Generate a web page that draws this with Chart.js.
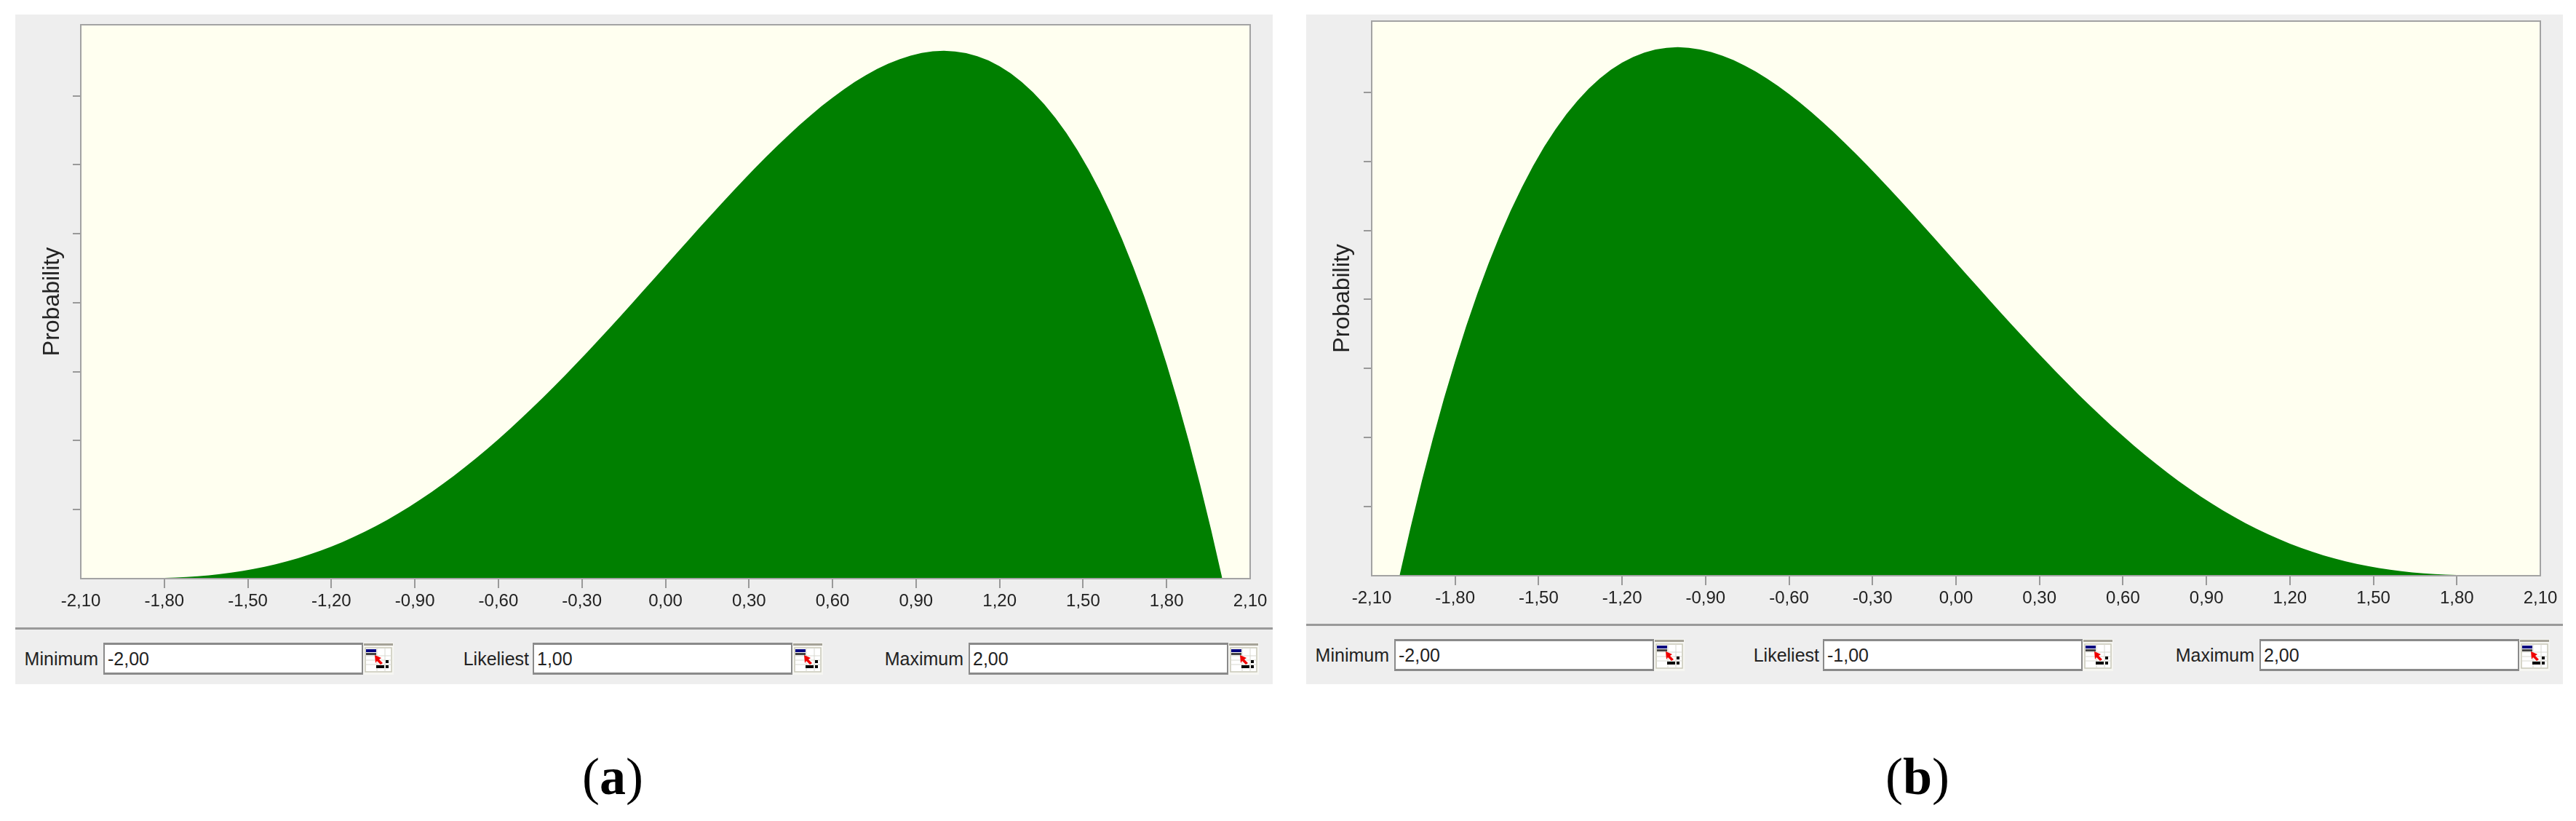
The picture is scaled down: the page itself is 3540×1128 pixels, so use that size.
<!DOCTYPE html>
<html>
<head>
<meta charset="utf-8">
<script src="https://cdn.jsdelivr.net/npm/chart.js@4/dist/chart.umd.min.js"></script>
<style>
html,body{margin:0;padding:0;background:#fff;width:3540px;height:1128px;overflow:hidden}
.abs{position:absolute;box-sizing:border-box}
.panel{background:#eeeeee}
.divider{background:#999;height:3px}
.lbl{font:25px/44px "Liberation Sans",sans-serif;color:#222;white-space:nowrap;text-align:right}
.inp{background:#fff;border:2px solid #8a8a8a;border-top-width:3px;border-bottom-width:3px;font:25px/38px "Liberation Sans",sans-serif;color:#222;padding-left:4px}
.cap{font:72px/80px "Liberation Serif",serif;color:#000;white-space:nowrap;transform:translateX(-50%)}
.cap b{font-weight:700}
canvas{position:absolute}
</style>
</head>
<body>
<script>
const xValues=[-2.00,-1.96,-1.92,-1.88,-1.84,-1.80,-1.76,-1.72,-1.68,-1.64,-1.60,-1.56,-1.52,-1.48,-1.44,-1.40,-1.36,-1.32,-1.28,-1.24,-1.20,-1.16,-1.12,-1.08,-1.04,-1.00,-0.96,-0.92,-0.88,-0.84,-0.80,-0.76,-0.72,-0.68,-0.64,-0.60,-0.56,-0.52,-0.48,-0.44,-0.40,-0.36,-0.32,-0.28,-0.24,-0.20,-0.16,-0.12,-0.08,-0.04,0.00,0.04,0.08,0.12,0.16,0.20,0.24,0.28,0.32,0.36,0.40,0.44,0.48,0.52,0.56,0.60,0.64,0.68,0.72,0.76,0.80,0.84,0.88,0.92,0.96,1.00,1.04,1.08,1.12,1.16,1.20,1.24,1.28,1.32,1.36,1.40,1.44,1.48,1.52,1.56,1.60,1.64,1.68,1.72,1.76,1.80,1.84,1.88,1.92,1.96,2.00];
const probabilityA=[0,0,0,0,0,0.01,0.015,0.023,0.034,0.048,0.065,0.086,0.110,0.139,0.171,0.208,0.250,0.296,0.347,0.403,0.464,0.531,0.603,0.680,0.762,0.850,0.944,1.043,1.147,1.256,1.371,1.491,1.617,1.747,1.882,2.022,2.166,2.315,2.468,2.625,2.786,2.950,3.118,3.288,3.461,3.636,3.813,3.992,4.172,4.353,4.534,4.716,4.897,5.077,5.255,5.432,5.606,5.777,5.945,6.109,6.268,6.422,6.571,6.712,6.847,6.973,7.092,7.201,7.300,7.388,7.465,7.530,7.582,7.620,7.644,7.652,7.643,7.618,7.574,7.512,7.429,7.326,7.200,7.052,6.880,6.683,6.460,6.211,5.933,5.626,5.289,4.920,4.520,4.085,3.616,3.110,2.568,1.986,1.366,0.704,0];
const probabilityB=[0,0.704,1.366,1.986,2.568,3.110,3.616,4.085,4.520,4.920,5.289,5.626,5.933,6.211,6.460,6.683,6.880,7.052,7.200,7.326,7.429,7.512,7.574,7.618,7.643,7.652,7.644,7.620,7.582,7.530,7.465,7.388,7.300,7.201,7.092,6.973,6.847,6.712,6.571,6.422,6.268,6.109,5.945,5.777,5.606,5.432,5.255,5.077,4.897,4.716,4.534,4.353,4.172,3.992,3.813,3.636,3.461,3.288,3.118,2.950,2.786,2.625,2.468,2.315,2.166,2.022,1.882,1.747,1.617,1.491,1.371,1.256,1.147,1.043,0.944,0.850,0.762,0.680,0.603,0.531,0.464,0.403,0.347,0.296,0.250,0.208,0.171,0.139,0.110,0.086,0.065,0.048,0.034,0.023,0.015,0.01,0,0,0,0,0];
const xTickValues=[-2.1,-1.8,-1.5,-1.2,-0.9,-0.6,-0.3,0,0.3,0.6,0.9,1.2,1.5,1.8,2.1];
const xTickLabels=["-2,10","-1,80","-1,50","-1,20","-0,90","-0,60","-0,30","0,00","0,30","0,60","0,90","1,20","1,50","1,80","2,10"];
const yTickValues=[1,2,3,4,5,6,7];
const yAxisTitle="Probability";
const fieldNames=["Minimum","Likeliest","Maximum"];
const fieldValuesA=["-2,00","1,00","2,00"];
const fieldValuesB=["-2,00","-1,00","2,00"];
const captions=["a","b"];

const frames=[
 {panelL:21,panelW:1728,plotL:111,plotR:1718,plotT:34,plotB:795,divY:862,values:probabilityA,fields:fieldValuesA,inpY:883,capX:842,
  lblR:[135,727,1324],inpL:[142,732,1331],title:32},
 {panelL:1795,panelW:1727,plotL:1885,plotR:3491,plotT:29,plotB:791,divY:857,values:probabilityB,fields:fieldValuesB,inpY:878,capX:2635,
  lblR:[1909,2500,3098],inpL:[1916,2505,3105],title:31}
];
const iconSvg=`<svg xmlns="http://www.w3.org/2000/svg" width="42" height="44" viewBox="0 0 42 44">
<rect width="42" height="44" fill="#f6f6f2"/><rect x="1" y="1" width="40" height="3" fill="#a5a297"/>
<rect x="3" y="7" width="36" height="33" fill="#fff" stroke="#c9c8b8" stroke-width="1.5"/>
<path d="M3 18H39M3 24H39M3 30H39M19 7V40M30 7V40" stroke="#d8d8d0" stroke-width="1"/>
<rect x="4" y="9" width="14" height="4" fill="#000080"/><rect x="4" y="14" width="14" height="3" fill="#444"/>
<path d="M16 17L25 21L22 23L27 28L24 30L19 25L17 28Z" fill="#f00000"/>
<rect x="18" y="31" width="11" height="4" fill="#000"/><rect x="31" y="24" width="4" height="4" fill="#000"/><rect x="31" y="31" width="4" height="4" fill="#000"/></svg>`;

function el(cls,l,t,w,h,html){const d=document.createElement('div');d.className='abs '+cls;d.style.left=l+'px';d.style.top=t+'px';
 if(w!=null)d.style.width=w+'px';if(h!=null)d.style.height=h+'px';if(html!=null)d.innerHTML=html;document.body.appendChild(d);return d;}

const plotFrame={id:'plotFrame',
 beforeDatasetsDraw(c){const a=c.chartArea,x=c.ctx;x.save();x.fillStyle='#fffff0';x.fillRect(a.left,a.top,a.width,a.height);x.restore();},
 afterDatasetsDraw(c){const a=c.chartArea,x=c.ctx;x.save();x.strokeStyle='#a3a3a3';x.lineWidth=2;x.strokeRect(a.left,a.top,a.width,a.height);x.restore();}};

frames.forEach((f,i)=>{
 el('panel',f.panelL,20,f.panelW,920);
 el('divider',f.panelL,f.divY,f.panelW,null);
 const canvasH=f.divY-20;
 const box=document.createElement('div');box.className='abs';box.style.cssText+=`left:${f.panelL}px;top:20px;width:${f.panelW}px;height:${canvasH}px`;
 const cv=document.createElement('canvas');box.appendChild(cv);document.body.appendChild(box);
 new Chart(cv,{type:'line',
  data:{datasets:[{data:xValues.map((x,k)=>({x,y:f.values[k]})),fill:'origin',backgroundColor:'#007f00',borderWidth:0,borderColor:'#007f00',pointRadius:0,tension:0}]},
  options:{responsive:true,maintainAspectRatio:false,animation:false,
   layout:{padding:{left:0,top:f.plotT-20,right:f.panelL+f.panelW-f.plotR,bottom:0}},
   plugins:{legend:{display:false},tooltip:{enabled:false}},
   scales:{
    x:{type:'linear',min:-2.1,max:2.1,
     afterBuildTicks(s){s.ticks=xTickValues.map(value=>({value}));},
     afterFit(s){s.height=f.divY-f.plotB;},
     border:{display:false},
     grid:{drawOnChartArea:false,tickLength:13,lineWidth:2,color:(c)=>(c.index===0||c.index===xTickValues.length-1)?'rgba(0,0,0,0)':'#999'},
     ticks:{autoSkip:false,maxRotation:0,minRotation:0,padding:4,color:'#222',font:{family:'"Liberation Sans"',size:24},callback:(v,idx)=>xTickLabels[idx]}},
    y:{type:'linear',min:0,max:8.03,
     afterBuildTicks(s){s.ticks=yTickValues.map(value=>({value}));},
     afterFit(s){s.width=f.plotL-f.panelL;},
     border:{display:false},
     grid:{drawOnChartArea:false,tickLength:11,lineWidth:2,color:'#999'},
     ticks:{display:false},
     title:{display:true,text:yAxisTitle,color:'#222',font:{family:'"Liberation Sans"',size:32},padding:{top:f.title,bottom:0}}}
   }},plugins:[plotFrame]});
 fieldNames.forEach((n,j)=>{
  el('lbl',f.lblR[j]-140,f.inpY,140,44,n);
  el('inp',f.inpL[j],f.inpY,357,44,f.fields[j]);
  el('',f.inpL[j]+357,f.inpY,42,44,iconSvg);
 });
 el('cap',f.capX,1027,null,null,'(<b>'+captions[i]+'</b>)');
});
</script>
</body>
</html>
